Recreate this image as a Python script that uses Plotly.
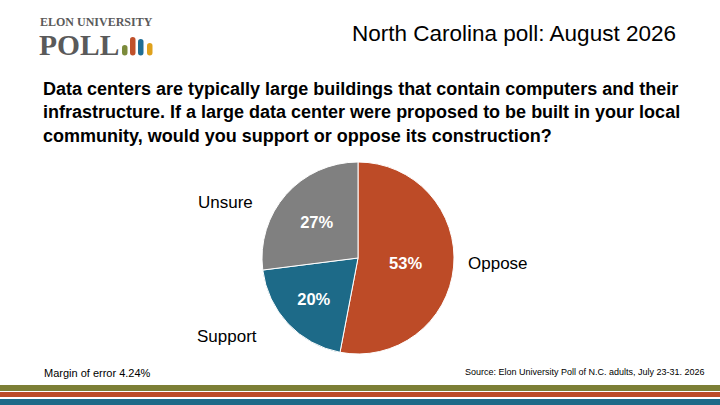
import plotly.graph_objects as go

# poll results (percent)
categories = ["Oppose", "Support", "Unsure"]
values = [53, 20, 27]
slice_colors = ["#BD4B27", "#1D6A88", "#808080"]

title_text = "North Carolina poll: August 2026"
question_lines = [
    "Data centers are typically large buildings that contain computers and their",
    "infrastructure. If a large data center were proposed to be built in your local",
    "community, would you support or oppose its construction?",
]
moe_text = "Margin of error 4.24%"
source_text = "Source: Elon University Poll of N.C. adults, July 23-31. 2026"

W, H = 720, 405


def px(x):
    return x / W


def py(y):
    return 1 - y / H


def pill(x0, x1, top, bottom):
    # small bar with rounded ends, in paper units
    r = (x1 - x0) / 2
    xm = (x0 + x1) / 2
    return (f"M {px(x0)},{py(bottom - r)} L {px(x0)},{py(top + r)} "
            f"Q {px(x0)},{py(top)} {px(xm)},{py(top)} Q {px(x1)},{py(top)} {px(x1)},{py(top + r)} "
            f"L {px(x1)},{py(bottom - r)} Q {px(x1)},{py(bottom)} {px(xm)},{py(bottom)} "
            f"Q {px(x0)},{py(bottom)} {px(x0)},{py(bottom - r)} Z")


fig = go.Figure()

fig.add_trace(go.Pie(
    labels=categories,
    values=values,
    sort=False,
    direction="clockwise",
    rotation=0,
    marker=dict(colors=slice_colors, line=dict(color="white", width=1)),
    texttemplate="<b>%{value}%</b>",
    textposition="inside",
    insidetextorientation="horizontal",
    textfont=dict(family="Liberation Sans", size=16.5, color="white"),
    hoverinfo="label+percent",
    showlegend=False,
    domain=dict(x=[px(262), px(454)], y=[py(354), py(162)]),
))

annotations = []

# category names placed next to the pie, like the slide
label_pos = {"Oppose": (466, 263), "Support": (195, 336), "Unsure": (196, 202)}
for name in categories:
    x, y = label_pos[name]
    annotations.append(dict(x=px(x), y=py(y), xref="paper", yref="paper",
                            text=name, showarrow=False, xanchor="left", yanchor="middle",
                            font=dict(family="Liberation Sans", size=17, color="black")))

annotations.append(dict(x=px(678), y=py(33), xref="paper", yref="paper", text=title_text,
                        showarrow=False, xanchor="right", yanchor="middle",
                        font=dict(family="Liberation Sans", size=22.5, color="black")))

annotations.append(dict(x=px(41), y=py(77), xref="paper", yref="paper",
                        text="<b>" + "<br>".join(question_lines) + "</b>",
                        showarrow=False, xanchor="left", yanchor="top", align="left",
                        font=dict(family="Liberation Sans", size=18, color="black")))

annotations.append(dict(x=px(42), y=py(373), xref="paper", yref="paper", text=moe_text,
                        showarrow=False, xanchor="left", yanchor="middle",
                        font=dict(family="Liberation Sans", size=11, color="black")))
annotations.append(dict(x=px(707), y=py(372), xref="paper", yref="paper", text=source_text,
                        showarrow=False, xanchor="right", yanchor="middle",
                        font=dict(family="Liberation Sans", size=9, color="black")))

# logo text
annotations.append(dict(x=px(38), y=py(22), xref="paper", yref="paper", text="<b>ELON UNIVERSITY</b>",
                        showarrow=False, xanchor="left", yanchor="middle",
                        font=dict(family="Liberation Serif", size=12, color="#5a5a5a")))
annotations.append(dict(x=px(37), y=py(45), xref="paper", yref="paper", text="<b>POLL</b>",
                        showarrow=False, xanchor="left", yanchor="middle",
                        font=dict(family="Liberation Serif", size=29.5, color="#5a5a5a")))

shapes = []
# logo bars
logo_bars = [(122, 45, "#7C8B3B"), (130, 37, "#C0512B"), (138, 39, "#1F6E95"), (147, 43, "#DFA11C")]
for x0, top, col in logo_bars:
    shapes.append(dict(type="path", xref="paper", yref="paper",
                       path=pill(x0, x0 + 5.5, top, 55.5),
                       fillcolor=col, line=dict(width=0)))

# bottom stripes
stripes = [(385, 391, "#7C7F36"), (392, 397, "#BD4B27"), (399, 405, "#1D6A88")]
for y0, y1, col in stripes:
    shapes.append(dict(type="rect", xref="paper", yref="paper",
                       x0=0, x1=1, y0=py(y1), y1=py(y0),
                       fillcolor=col, line=dict(width=0)))

fig.update_layout(
    width=W, height=H,
    margin=dict(l=0, r=0, t=0, b=0),
    paper_bgcolor="white",
    plot_bgcolor="white",
    annotations=annotations,
    shapes=shapes,
)

# drop the default page margin so the slide fills the window
fig.write_html("out.html", config={"displayModeBar": False},
               post_script="document.body.style.margin='0';")
